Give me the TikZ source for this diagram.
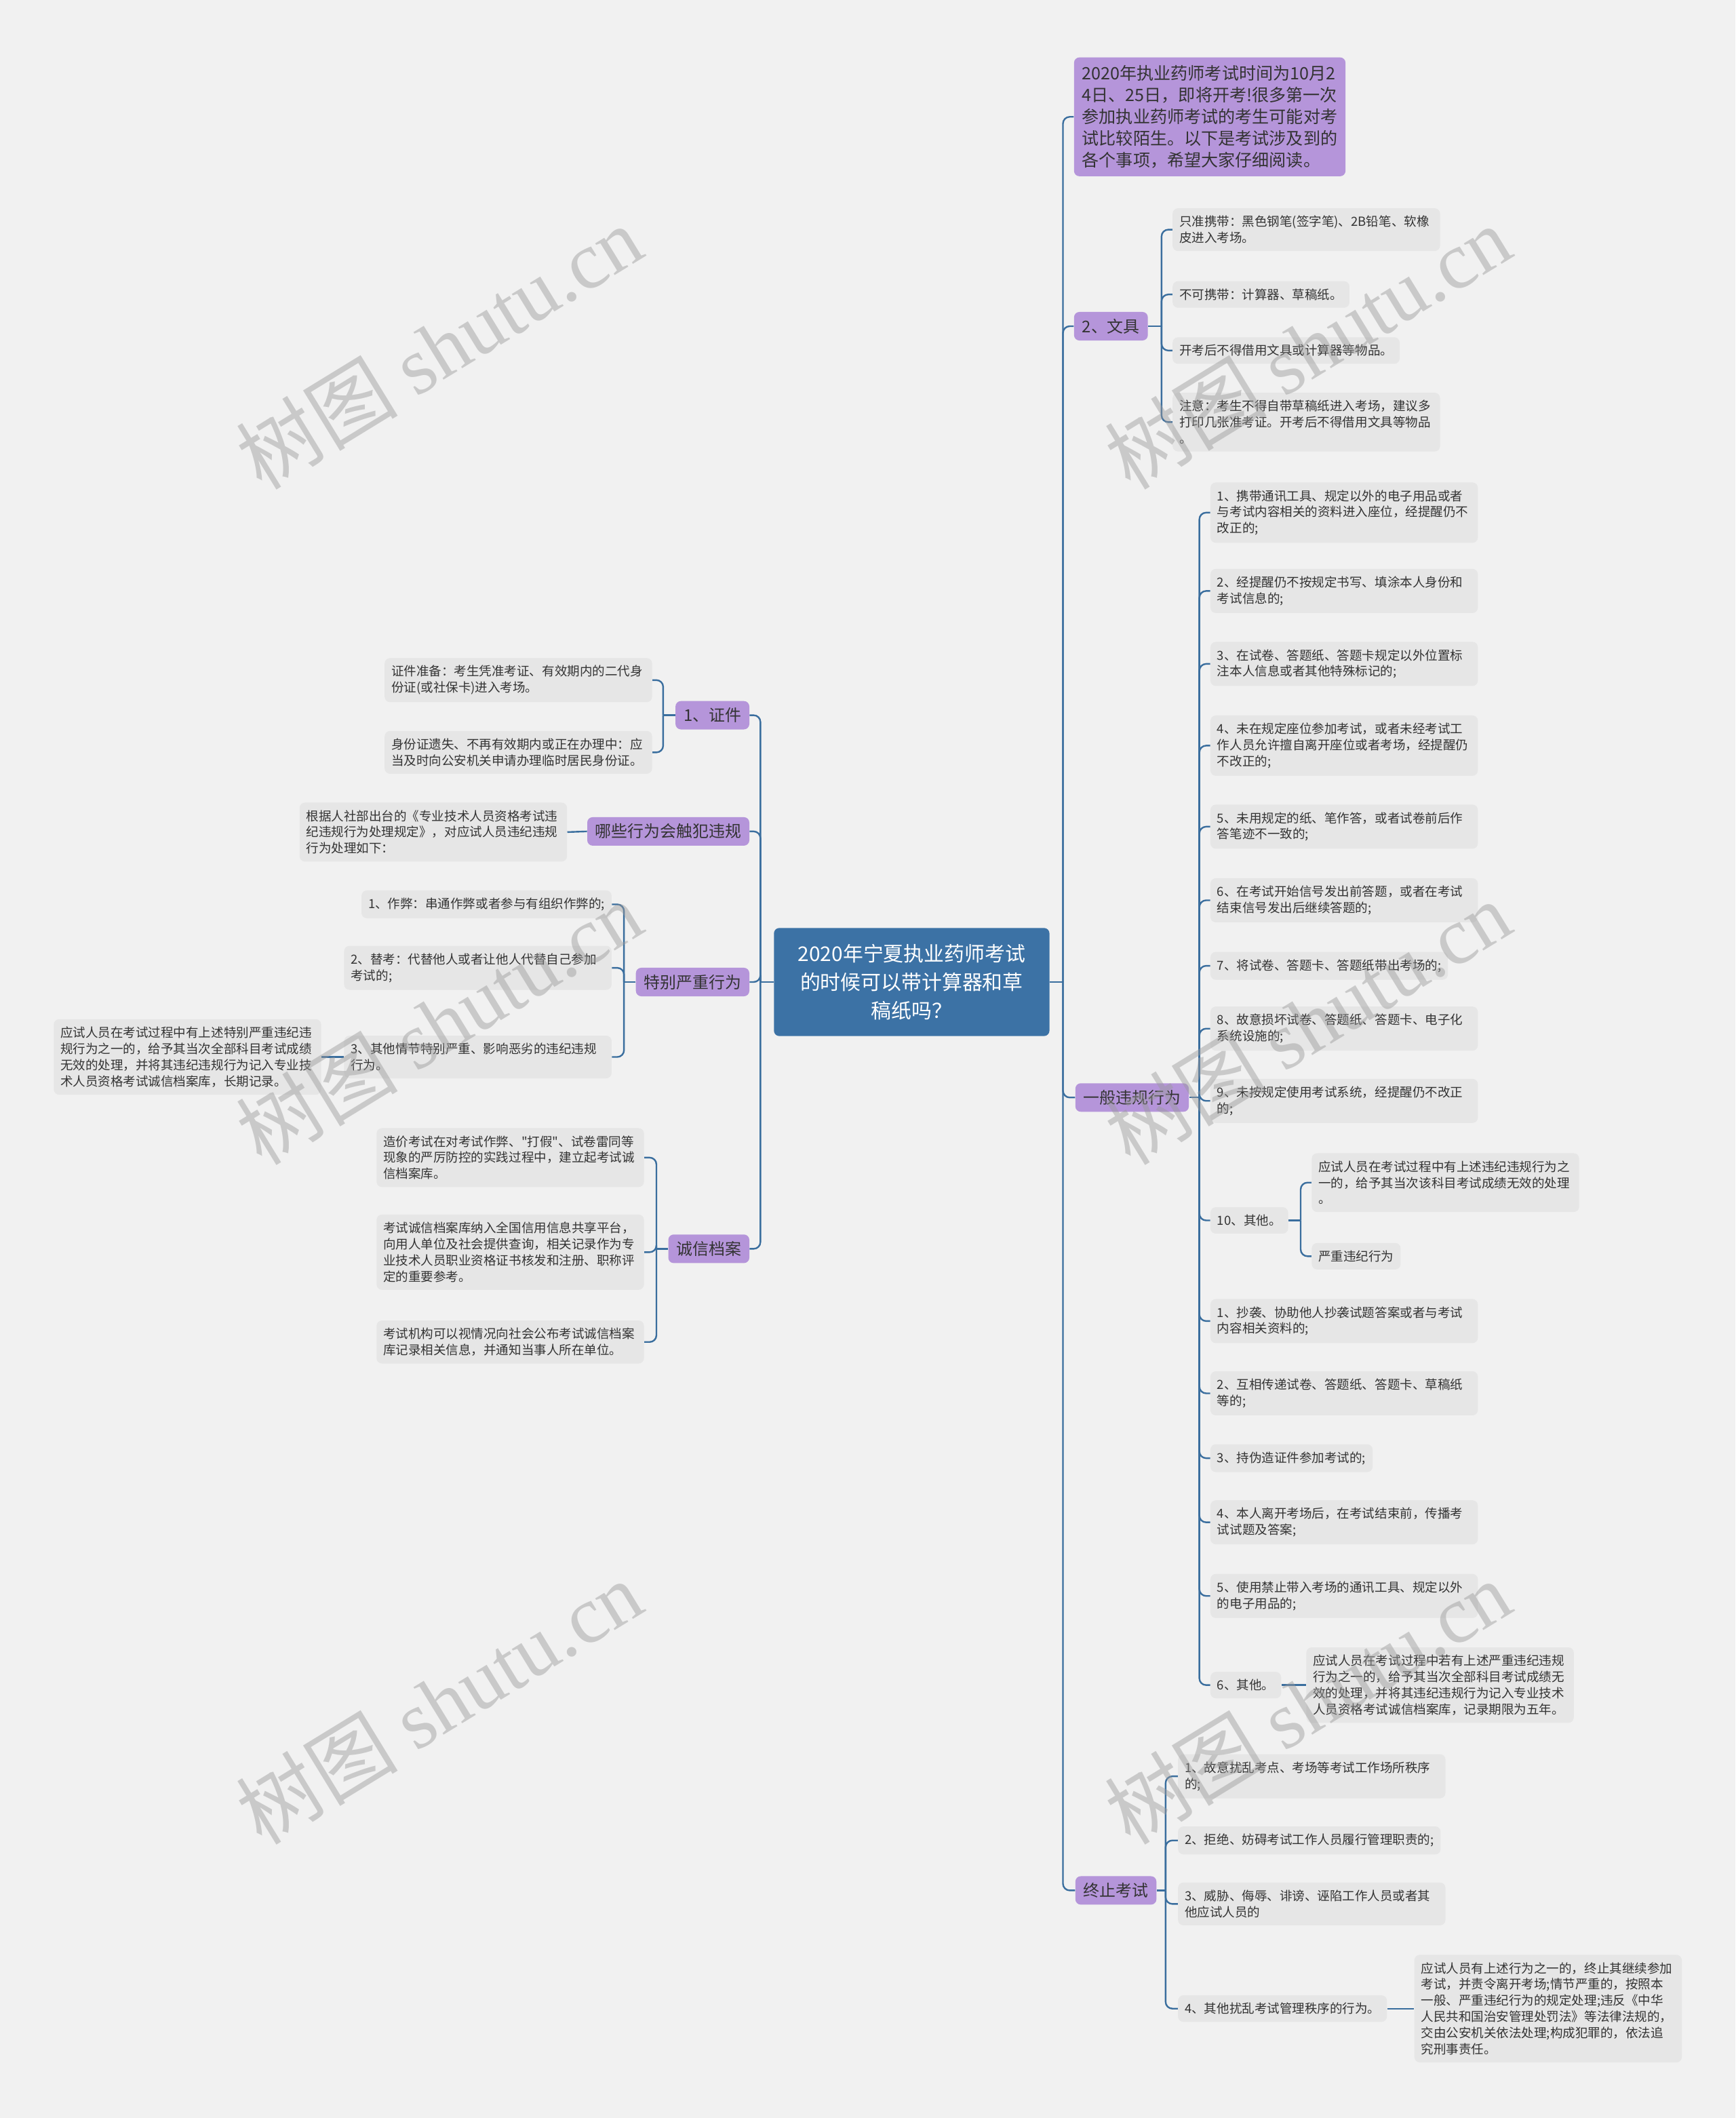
\documentclass[tikz,border=0pt]{standalone}
\usepackage{fontspec}
\setmainfont{Noto Sans CJK SC}[Ligatures=TeXOff]
\newfontfamily\wmfont{Liberation Serif}
\usetikzlibrary{positioning,calc}

\definecolor{bgc}{HTML}{F1F1F1}
\definecolor{leafc}{HTML}{E6E6E6}
\definecolor{topicc}{HTML}{B595DA}
\definecolor{rootc}{HTML}{3C72A5}
\definecolor{linec}{HTML}{3A6E9E}
\definecolor{textc}{HTML}{333333}
\definecolor{wmc}{HTML}{9A9A9A}

\tikzset{
  link/.style={draw=linec,line width=1.2pt,rounded corners=5pt},
  leaf/.style={fill=leafc,rounded corners=4pt,inner xsep=5pt,inner ysep=5.5pt,
    align=left,text=textc,font=\fontsize{9.3}{12}\selectfont},
  wide/.style={leaf,text width=188pt},
  topic/.style={fill=topicc,rounded corners=4pt,inner xsep=6pt,inner ysep=5pt,
    text=textc,font=\fontsize{12}{15}\selectfont},
  root/.style={fill=rootc,rounded corners=4pt,inner xsep=10pt,inner ysep=10pt,
    minimum width=204pt,minimum height=80pt,
    align=center,text=white,font=\fontsize{15}{21}\selectfont},
  wm/.style={rotate=31.5,text=wmc,text opacity=0.45,font=\fontsize{60}{60}\selectfont}
}

\begin{document}
\begin{tikzpicture}[x=1pt,y=-1pt]
\fill[bgc] (0,0) rectangle (1285,1568);
\useasboundingbox (0,0) rectangle (1285,1568);

% centre
\node[root] (root) at (675,727) {2020年宁夏执业药师考试\\的时候可以带计算器和草\\稿纸吗？};

% right side
\node[topic,anchor=west,align=left,text width=189pt,inner ysep=6pt,
  font=\fontsize{12.6}{16}\selectfont] (intro) at (795,86.5)
  {2020年执业药师考试时间为10月2\\4日、25日，即将开考!很多第一次\\参加执业药师考试的考生可能对考\\试比较陌生。以下是考试涉及到的\\各个事项，希望大家仔细阅读。};
\node[topic,anchor=west] (wenju) at (795,241.5) {2、文具};
\node[topic,anchor=west] (yiban) at (796,812.5) {一般违规行为};
\node[topic,anchor=west] (zhongzhi) at (796,1399.5) {终止考试};

\node[wide,anchor=west] (wj1) at (868,170) {只准携带：黑色钢笔(签字笔)、2B铅笔、软橡\\皮进入考场。};
\node[leaf,anchor=west] (wj2) at (868,218) {不可携带：计算器、草稿纸。};
\node[leaf,anchor=west] (wj3) at (868,259.5) {开考后不得借用文具或计算器等物品。};
\node[wide,anchor=west] (wj4) at (868,312.5) {注意：考生不得自带草稿纸进入考场，建议多\\打印几张准考证。开考后不得借用文具等物品\\。};

\node[wide,anchor=west] (yb1) at (896,379.5) {1、携带通讯工具、规定以外的电子用品或者\\与考试内容相关的资料进入座位，经提醒仍不\\改正的;};
\node[wide,anchor=west] (yb2) at (896,437.5) {2、经提醒仍不按规定书写、填涂本人身份和\\考试信息的;};
\node[wide,anchor=west] (yb3) at (896,491.5) {3、在试卷、答题纸、答题卡规定以外位置标\\注本人信息或者其他特殊标记的;};
\node[wide,anchor=west] (yb4) at (896,552) {4、未在规定座位参加考试，或者未经考试工\\作人员允许擅自离开座位或者考场，经提醒仍\\不改正的;};
\node[wide,anchor=west] (yb5) at (896,612) {5、未用规定的纸、笔作答，或者试卷前后作\\答笔迹不一致的;};
\node[wide,anchor=west] (yb6) at (896,666.5) {6、在考试开始信号发出前答题，或者在考试\\结束信号发出后继续答题的;};
\node[leaf,anchor=west] (yb7) at (896,715) {7、将试卷、答题卡、答题纸带出考场的;};
\node[wide,anchor=west] (yb8) at (896,761.5) {8、故意损坏试卷、答题纸、答题卡、电子化\\系统设施的;};
\node[wide,anchor=west] (yb9) at (896,815) {9、未按规定使用考试系统，经提醒仍不改正\\的;};
\node[leaf,anchor=west] (yb10) at (896,903.5) {10、其他。};
\node[wide,anchor=west] (yb10a) at (971,875.5) {应试人员在考试过程中有上述违纪违规行为之\\一的，给予其当次该科目考试成绩无效的处理\\。};
\node[leaf,anchor=west] (yb10b) at (971,930) {严重违纪行为};

\node[wide,anchor=west] (yz1) at (896,978) {1、抄袭、协助他人抄袭试题答案或者与考试\\内容相关资料的;};
\node[wide,anchor=west] (yz2) at (896,1031.5) {2、互相传递试卷、答题纸、答题卡、草稿纸\\等的;};
\node[leaf,anchor=west] (yz3) at (896,1079.5) {3、持伪造证件参加考试的;};
\node[wide,anchor=west] (yz4) at (896,1127) {4、本人离开考场后，在考试结束前，传播考\\试试题及答案;};
\node[wide,anchor=west] (yz5) at (896,1181.5) {5、使用禁止带入考场的通讯工具、规定以外\\的电子用品的;};
\node[leaf,anchor=west] (yz6) at (896,1247.5) {6、其他。};
\node[wide,anchor=west] (yz6a) at (967,1247.5) {应试人员在考试过程中若有上述严重违纪违规\\行为之一的，给予其当次全部科目考试成绩无\\效的处理，并将其违纪违规行为记入专业技术\\人员资格考试诚信档案库，记录期限为五年。};

\node[wide,anchor=west] (zz1) at (872,1315) {1、故意扰乱考点、考场等考试工作场所秩序\\的;};
\node[leaf,anchor=west] (zz2) at (872,1362.5) {2、拒绝、妨碍考试工作人员履行管理职责的;};
\node[wide,anchor=west] (zz3) at (872,1409.5) {3、威胁、侮辱、诽谤、诬陷工作人员或者其\\他应试人员的};
\node[leaf,anchor=west] (zz4) at (872,1487) {4、其他扰乱考试管理秩序的行为。};
\node[wide,anchor=west] (zz4a) at (1047,1487) {应试人员有上述行为之一的，终止其继续参加\\考试，并责令离开考场;情节严重的，按照本\\一般、严重违纪行为的规定处理;违反《中华\\人民共和国治安管理处罚法》等法律法规的，\\交由公安机关依法处理;构成犯罪的，依法追\\究刑事责任。};

% left side
\node[topic,anchor=east] (zhengjian) at (555,529.5) {1、证件};
\node[topic,anchor=east] (naxie) at (555,615.5) {哪些行为会触犯违规};
\node[topic,anchor=east] (tebie) at (555,727) {特别严重行为};
\node[topic,anchor=east] (chengxin) at (555,924.5) {诚信档案};

\node[wide,anchor=east] (zj1) at (483,503.5) {证件准备：考生凭准考证、有效期内的二代身\\份证(或社保卡)进入考场。};
\node[wide,anchor=east] (zj2) at (483,557) {身份证遗失、不再有效期内或正在办理中：应\\当及时向公安机关申请办理临时居民身份证。};
\node[wide,anchor=east] (nx1) at (420,616) {根据人社部出台的《专业技术人员资格考试违\\纪违规行为处理规定》，对应试人员违纪违规\\行为处理如下：};
\node[leaf,anchor=east] (tb1) at (453,669.5) {1、作弊：串通作弊或者参与有组织作弊的;};
\node[wide,anchor=east] (tb2) at (453,716.5) {2、替考：代替他人或者让他人代替自己参加\\考试的;};
\node[wide,anchor=east] (tb3) at (453,782.5) {3、其他情节特别严重、影响恶劣的违纪违规\\行为。};
\node[wide,anchor=east] (tb3a) at (238,782.5) {应试人员在考试过程中有上述特别严重违纪违\\规行为之一的，给予其当次全部科目考试成绩\\无效的处理，并将其违纪违规行为记入专业技\\术人员资格考试诚信档案库，长期记录。};
\node[wide,anchor=east] (cx1) at (477,857) {造价考试在对考试作弊、"打假"、试卷雷同等\\现象的严厉防控的实践过程中，建立起考试诚\\信档案库。};
\node[wide,anchor=east] (cx2) at (477,927) {考试诚信档案库纳入全国信用信息共享平台，\\向用人单位及社会提供查询，相关记录作为专\\业技术人员职业资格证书核发和注册、职称评\\定的重要参考。};
\node[wide,anchor=east] (cx3) at (477,993.5) {考试机构可以视情况向社会公布考试诚信档案\\库记录相关信息，并通知当事人所在单位。};

% connectors, right
\coordinate (rt) at (787,727);
\draw[link] (root.east) -- (rt);
\foreach \n in {intro,wenju,yiban,zhongzhi} \draw[link] (rt) |- (\n.west);

\coordinate (wjb) at (860,241.5);
\draw[link] (wenju.east) -- (wjb);
\foreach \n in {wj1,wj2,wj3,wj4} \draw[link] (wjb) |- (\n.west);

\coordinate (ybb) at (888,812.5);
\draw[link] (yiban.east) -- (ybb);
\foreach \n in {yb1,yb2,yb3,yb4,yb5,yb6,yb7,yb8,yb9,yb10,yz1,yz2,yz3,yz4,yz5,yz6}
  \draw[link] (ybb) |- (\n.west);

\coordinate (y10b) at (963,903.5);
\draw[link] (yb10.east) -- (y10b);
\foreach \n in {yb10a,yb10b} \draw[link] (y10b) |- (\n.west);
\draw[link] (yz6.east) -- (yz6a.west);

\coordinate (zzb) at (863,1399.5);
\draw[link] (zhongzhi.east) -- (zzb);
\foreach \n in {zz1,zz2,zz3,zz4} \draw[link] (zzb) |- (\n.west);
\draw[link] (zz4.east) -- (zz4a.west);

% connectors, left
\coordinate (lt) at (563,727);
\draw[link] (root.west) -- (lt);
\foreach \n in {zhengjian,naxie,tebie,chengxin} \draw[link] (lt) |- (\n.east);

\coordinate (zjb) at (491,529.5);
\draw[link] (zhengjian.west) -- (zjb);
\foreach \n in {zj1,zj2} \draw[link] (zjb) |- (\n.east);
\draw[link] (naxie.west) -- (nx1.east);

\coordinate (tbb) at (462,727);
\draw[link] (tebie.west) -- (tbb);
\foreach \n in {tb1,tb2,tb3} \draw[link] (tbb) |- (\n.east);
\draw[link] (tb3.west) -- (tb3a.east);

\coordinate (cxb) at (486,924.5);
\draw[link] (chengxin.west) -- (cxb);
\foreach \n in {cx1,cx2,cx3} \draw[link] (cxb) |- (\n.east);

% watermark
\foreach \x/\y [count=\i] in {325/257,968/257,325/757,968/757,325/1260,968/1260}
  \node[wm] (wm\i) at (\x,\y) {树图 {\wmfont shutu.cn}};
\end{tikzpicture}
\end{document}
